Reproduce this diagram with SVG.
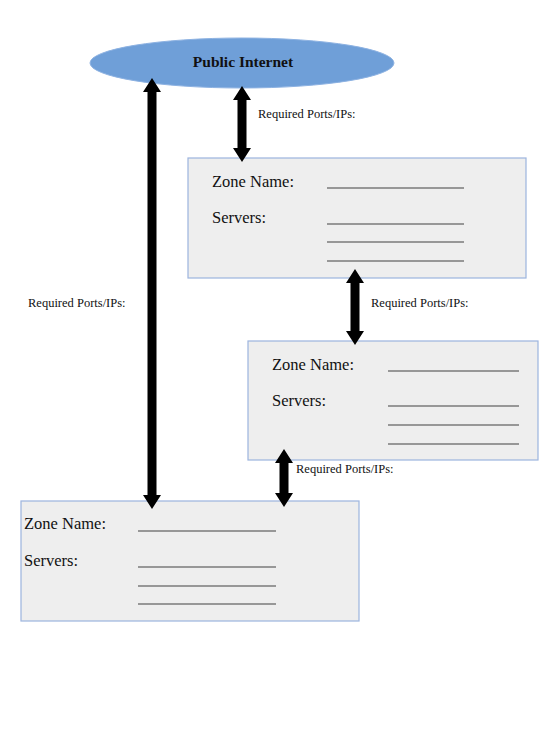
<svg xmlns="http://www.w3.org/2000/svg" width="540" height="750" viewBox="0 0 540 750">
<style>
.box{fill:#eeeeee;stroke:#9cb4de;stroke-width:1.2}
.lbl{font-family:"Liberation Serif",serif;font-size:16.5px;fill:#111}
.port{font-family:"Liberation Serif",serif;font-size:12.5px;fill:#111}
.ln{stroke:#7a7a7a;stroke-width:1.5}
.arr{fill:#000}
</style>
<rect width="540" height="750" fill="#ffffff"/>
<g id="internet">
<ellipse cx="242" cy="63" rx="152" ry="25" fill="#6f9fd8" stroke="#8db2e2" stroke-width="1"/>
<text x="243" y="67" text-anchor="middle" font-family="Liberation Serif,serif" font-weight="bold" font-size="15.5" fill="#111">Public Internet</text>
</g>
<g id="zone1">
<rect class="box" x="188" y="158" width="338" height="120"/>
<text class="lbl" x="212" y="187">Zone Name:</text>
<text class="lbl" x="212" y="223">Servers:</text>
<line class="ln" x1="327" y1="188" x2="464" y2="188"/>
<line class="ln" x1="327" y1="224" x2="464" y2="224"/>
<line class="ln" x1="327" y1="242" x2="464" y2="242"/>
<line class="ln" x1="327" y1="261" x2="464" y2="261"/>
</g>
<g id="zone2">
<rect class="box" x="248" y="341" width="290" height="119"/>
<text class="lbl" x="272" y="370">Zone Name:</text>
<text class="lbl" x="272" y="406">Servers:</text>
<line class="ln" x1="388" y1="371" x2="519" y2="371"/>
<line class="ln" x1="388" y1="406" x2="519" y2="406"/>
<line class="ln" x1="388" y1="425" x2="519" y2="425"/>
<line class="ln" x1="388" y1="444" x2="519" y2="444"/>
</g>
<g id="zone3">
<rect class="box" x="21" y="501" width="338" height="120"/>
<text class="lbl" x="24" y="529">Zone Name:</text>
<text class="lbl" x="24" y="566">Servers:</text>
<line class="ln" x1="138" y1="531" x2="276" y2="531"/>
<line class="ln" x1="138" y1="567" x2="276" y2="567"/>
<line class="ln" x1="138" y1="586" x2="276" y2="586"/>
<line class="ln" x1="138" y1="604" x2="276" y2="604"/>
</g>
<g id="connectors">
<path class="arr" d="M152,78 L161,92 L156.5,92 L156.5,495 L161,495 L152,509 L143,495 L147.5,495 L147.5,92 L143,92 Z"/>
<path class="arr" d="M242,86 L251,100 L246.5,100 L246.5,148 L251,148 L242,162 L233,148 L237.5,148 L237.5,100 L233,100 Z"/>
<path class="arr" d="M355,269 L364,283 L359.5,283 L359.5,331 L364,331 L355,345 L346,331 L350.5,331 L350.5,283 L346,283 Z"/>
<path class="arr" d="M284,449 L293,463 L288.5,463 L288.5,493 L293,493 L284,507 L275,493 L279.5,493 L279.5,463 L275,463 Z"/>
<text class="port" x="258" y="118">Required Ports/IPs:</text>
<text class="port" x="371" y="307">Required Ports/IPs:</text>
<text class="port" x="296" y="473">Required Ports/IPs:</text>
<text class="port" x="28" y="307">Required Ports/IPs:</text>
</g>
</svg>
